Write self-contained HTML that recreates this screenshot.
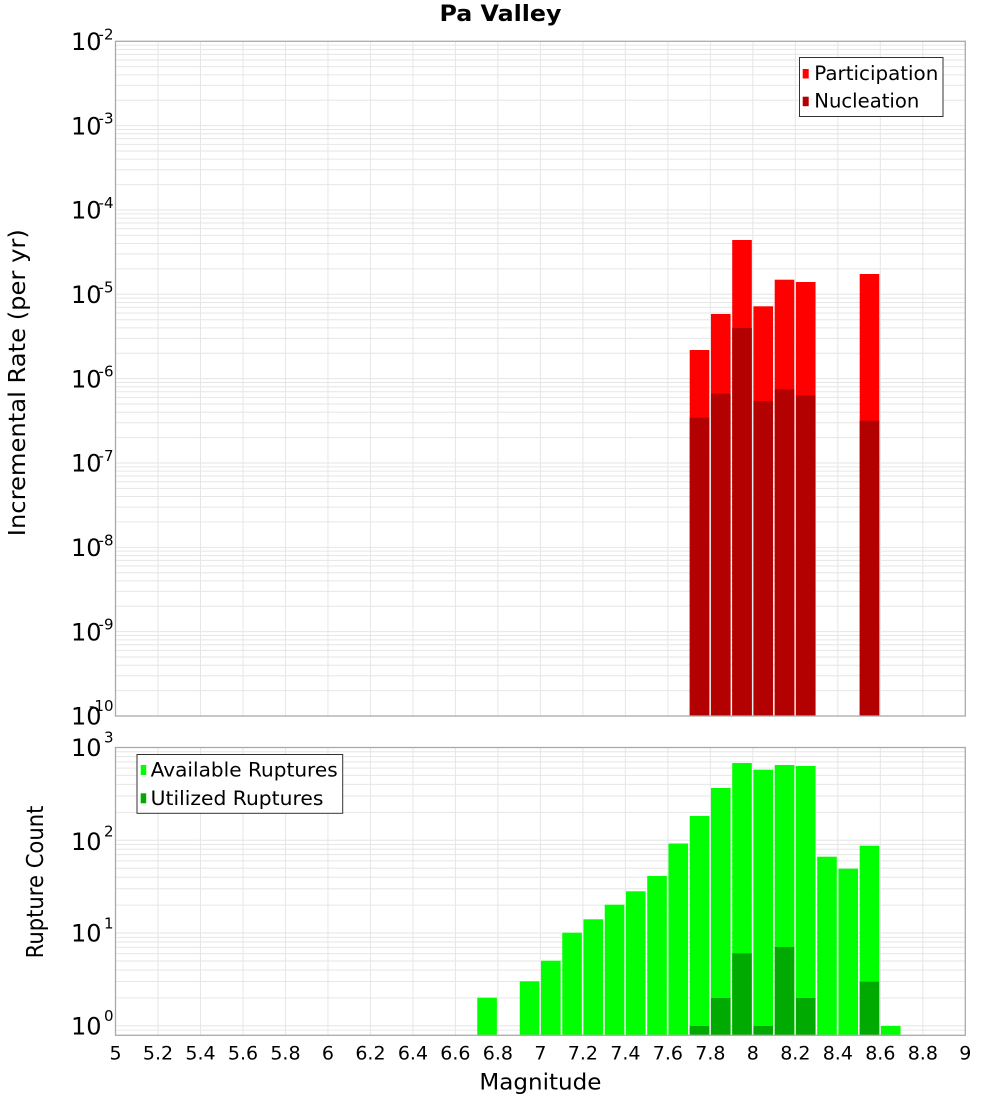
<!DOCTYPE html>
<html>
<head>
<meta charset="utf-8">
<style>
html,body{margin:0;padding:0;background:#fff;}
svg{display:block;}
text{font-family:"DejaVu Sans","Liberation Sans",sans-serif;fill:#000;}
</style>
</head>
<body>
<svg width="1000" height="1100" viewBox="0 0 1000 1100" xmlns="http://www.w3.org/2000/svg">
<rect x="0" y="0" width="1000" height="1100" fill="#fff"/>

<!-- Title -->
<text x="500.5" y="21" text-anchor="middle" font-size="22" font-weight="bold" textLength="122" lengthAdjust="spacingAndGlyphs">Pa Valley</text>

<!-- ===== TOP PANEL ===== -->
<g stroke="#e6e6e6" stroke-width="1" fill="none">
<path d="M115.5 45.14H965.3M115.5 49.45H965.3M115.5 54.34H965.3M115.5 59.99H965.3M115.5 66.67H965.3M115.5 74.84H965.3M115.5 85.38H965.3M115.5 100.23H965.3
M115.5 125.62H965.3M115.5 129.48H965.3M115.5 133.79H965.3M115.5 138.68H965.3M115.5 144.33H965.3M115.5 151.01H965.3M115.5 159.18H965.3M115.5 169.72H965.3M115.5 184.57H965.3
M115.5 209.96H965.3M115.5 213.82H965.3M115.5 218.13H965.3M115.5 223.02H965.3M115.5 228.67H965.3M115.5 235.35H965.3M115.5 243.52H965.3M115.5 254.06H965.3M115.5 268.91H965.3
M115.5 294.30H965.3M115.5 298.16H965.3M115.5 302.47H965.3M115.5 307.36H965.3M115.5 313.01H965.3M115.5 319.69H965.3M115.5 327.86H965.3M115.5 338.40H965.3M115.5 353.25H965.3
M115.5 378.64H965.3M115.5 382.50H965.3M115.5 386.81H965.3M115.5 391.70H965.3M115.5 397.35H965.3M115.5 404.03H965.3M115.5 412.20H965.3M115.5 422.74H965.3M115.5 437.59H965.3
M115.5 462.98H965.3M115.5 466.84H965.3M115.5 471.15H965.3M115.5 476.04H965.3M115.5 481.69H965.3M115.5 488.37H965.3M115.5 496.54H965.3M115.5 507.08H965.3M115.5 521.93H965.3
M115.5 547.32H965.3M115.5 551.18H965.3M115.5 555.49H965.3M115.5 560.38H965.3M115.5 566.03H965.3M115.5 572.71H965.3M115.5 580.88H965.3M115.5 591.42H965.3M115.5 606.27H965.3
M115.5 631.66H965.3M115.5 635.52H965.3M115.5 639.83H965.3M115.5 644.72H965.3M115.5 650.37H965.3M115.5 657.05H965.3M115.5 665.22H965.3M115.5 675.76H965.3M115.5 690.61H965.3"/>
<path d="M157.99 41.3V716M200.48 41.3V716M242.97 41.3V716M285.46 41.3V716M327.95 41.3V716M370.44 41.3V716M412.93 41.3V716M455.42 41.3V716M497.91 41.3V716M540.4 41.3V716M582.89 41.3V716M625.38 41.3V716M667.87 41.3V716M710.36 41.3V716M752.85 41.3V716M795.34 41.3V716M837.83 41.3V716M880.32 41.3V716M922.81 41.3V716"/>
</g>

<!-- Participation bars -->
<g fill="#ff0000">
<rect x="689.7" y="350" width="19.6" height="366"/>
<rect x="710.96" y="314" width="19.6" height="402"/>
<rect x="732.21" y="240" width="19.6" height="476"/>
<rect x="753.45" y="306.3" width="19.6" height="409.7"/>
<rect x="774.7" y="279.7" width="19.6" height="436.3"/>
<rect x="795.94" y="282" width="19.6" height="434"/>
<rect x="859.68" y="274" width="19.6" height="442"/>
</g>
<!-- Nucleation bars -->
<g fill="#b30000">
<rect x="689.7" y="417.7" width="19.6" height="298.3"/>
<rect x="710.96" y="393.7" width="19.6" height="322.3"/>
<rect x="732.21" y="328" width="19.6" height="388"/>
<rect x="753.45" y="401" width="19.6" height="315"/>
<rect x="774.7" y="389.3" width="19.6" height="326.7"/>
<rect x="795.94" y="395.3" width="19.6" height="320.7"/>
<rect x="859.68" y="420.7" width="19.6" height="295.3"/>
</g>

<rect x="115.5" y="41.3" width="849.8" height="674.7" fill="none" stroke="#aaaaaa" stroke-width="1.3"/>

<!-- top legend -->
<rect x="799.5" y="57.5" width="143.5" height="59" fill="#fff" stroke="#333" stroke-width="1"/>
<rect x="802.7" y="69" width="6" height="9.5" fill="#ff0000"/>
<rect x="802.7" y="96.7" width="6" height="9.5" fill="#b30000"/>
<text x="814.3" y="80" font-size="19.5" textLength="124" lengthAdjust="spacingAndGlyphs">Participation</text>
<text x="814.3" y="107.5" font-size="19.5" textLength="105" lengthAdjust="spacingAndGlyphs">Nucleation</text>

<!-- top y ticks -->
<g font-size="24" text-anchor="end">
<text x="101.5" y="50">10</text>
<text x="101.5" y="134.3">10</text>
<text x="101.5" y="218.7">10</text>
<text x="101.5" y="303">10</text>
<text x="101.5" y="387.3">10</text>
<text x="101.5" y="471.7">10</text>
<text x="101.5" y="556">10</text>
<text x="101.5" y="640.4">10</text>
<text x="101.5" y="724.5">10</text>
</g>
<g font-size="15" text-anchor="end">
<text x="113.5" y="39.3">-2</text>
<text x="113.5" y="123.6">-3</text>
<text x="113.5" y="208">-4</text>
<text x="113.5" y="292.3">-5</text>
<text x="113.5" y="376.6">-6</text>
<text x="113.5" y="461">-7</text>
<text x="113.5" y="545.3">-8</text>
<text x="113.5" y="629.7">-9</text>
<text x="113.5" y="711">-10</text>
</g>

<text transform="translate(25,382.7) rotate(-90)" text-anchor="middle" font-size="23" textLength="307" lengthAdjust="spacingAndGlyphs">Incremental Rate (per yr)</text>

<!-- ===== BOTTOM PANEL ===== -->
<g stroke="#e6e6e6" stroke-width="1" fill="none">
<path d="M115.5 751.78H965.3M115.5 756.49H965.3M115.5 761.87H965.3M115.5 768.08H965.3M115.5 775.43H965.3M115.5 784.42H965.3M115.5 796.01H965.3M115.5 812.34H965.3
M115.5 840.27H965.3M115.5 844.55H965.3M115.5 849.26H965.3M115.5 854.64H965.3M115.5 860.85H965.3M115.5 868.20H965.3M115.5 877.19H965.3M115.5 888.78H965.3M115.5 905.11H965.3
M115.5 933.04H965.3M115.5 937.32H965.3M115.5 942.03H965.3M115.5 947.41H965.3M115.5 953.62H965.3M115.5 960.97H965.3M115.5 969.96H965.3M115.5 981.55H965.3M115.5 997.88H965.3
M115.5 1025.81H965.3M115.5 1030.09H965.3"/>
<path d="M157.99 747.5V1035.3M200.48 747.5V1035.3M242.97 747.5V1035.3M285.46 747.5V1035.3M327.95 747.5V1035.3M370.44 747.5V1035.3M412.93 747.5V1035.3M455.42 747.5V1035.3M497.91 747.5V1035.3M540.4 747.5V1035.3M582.89 747.5V1035.3M625.38 747.5V1035.3M667.87 747.5V1035.3M710.36 747.5V1035.3M752.85 747.5V1035.3M795.34 747.5V1035.3M837.83 747.5V1035.3M880.32 747.5V1035.3M922.81 747.5V1035.3"/>
</g>

<!-- Available ruptures -->
<g fill="#00ff00">
<rect x="477.27" y="997.7" width="19.6" height="37.6"/>
<rect x="519.76" y="981.3" width="19.6" height="54"/>
<rect x="541" y="960.7" width="19.6" height="74.6"/>
<rect x="562.25" y="932.7" width="19.6" height="102.6"/>
<rect x="583.49" y="919.3" width="19.6" height="116"/>
<rect x="604.74" y="904.7" width="19.6" height="130.6"/>
<rect x="625.98" y="891.3" width="19.6" height="144"/>
<rect x="647.23" y="876" width="19.6" height="159.3"/>
<rect x="668.47" y="843.5" width="19.6" height="191.8"/>
<rect x="689.72" y="816" width="19.6" height="219.3"/>
<rect x="710.96" y="788" width="19.6" height="247.3"/>
<rect x="732.21" y="763" width="19.6" height="272.3"/>
<rect x="753.45" y="769.7" width="19.6" height="265.6"/>
<rect x="774.7" y="765" width="19.6" height="270.3"/>
<rect x="795.94" y="766" width="19.6" height="269.3"/>
<rect x="817.19" y="856.7" width="19.6" height="178.6"/>
<rect x="838.43" y="868.7" width="19.6" height="166.6"/>
<rect x="859.68" y="845.7" width="19.6" height="189.6"/>
<rect x="880.92" y="1026" width="19.6" height="9.3"/>
</g>
<!-- Utilized ruptures -->
<g fill="#00aa00">
<rect x="689.72" y="1026" width="19.6" height="9.3"/>
<rect x="710.96" y="998" width="19.6" height="37.3"/>
<rect x="732.21" y="953.3" width="19.6" height="82"/>
<rect x="753.45" y="1026" width="19.6" height="9.3"/>
<rect x="774.7" y="947" width="19.6" height="88.3"/>
<rect x="795.94" y="998" width="19.6" height="37.3"/>
<rect x="859.68" y="981.7" width="19.6" height="53.6"/>
</g>

<rect x="115.5" y="747.5" width="849.8" height="287.8" fill="none" stroke="#aaaaaa" stroke-width="1.3"/>

<!-- bottom legend -->
<rect x="137" y="754.5" width="205.7" height="58.8" fill="#fff" stroke="#333" stroke-width="1"/>
<rect x="140.7" y="765" width="5.5" height="10" fill="#00ff00"/>
<rect x="140.7" y="793.3" width="5.5" height="10" fill="#00aa00"/>
<text x="150.7" y="776.7" font-size="19.5" textLength="187" lengthAdjust="spacingAndGlyphs">Available Ruptures</text>
<text x="150.7" y="805" font-size="19.5" textLength="172.7" lengthAdjust="spacingAndGlyphs">Utilized Ruptures</text>

<!-- bottom y ticks -->
<g font-size="24" text-anchor="end">
<text x="101.5" y="756">10</text>
<text x="101.5" y="850">10</text>
<text x="101.5" y="941.7">10</text>
<text x="101.5" y="1034.5">10</text>
</g>
<g font-size="15" text-anchor="end">
<text x="113.5" y="742.7">3</text>
<text x="113.5" y="836.7">2</text>
<text x="113.5" y="928.5">1</text>
<text x="113.5" y="1021">0</text>
</g>

<text transform="translate(43,882) rotate(-90)" text-anchor="middle" font-size="23" textLength="152.7" lengthAdjust="spacingAndGlyphs">Rupture Count</text>

<!-- x ticks -->
<g font-size="19" text-anchor="middle">
<text x="115.5" y="1059.3">5</text>
<text x="157.99" y="1059.3">5.2</text>
<text x="200.48" y="1059.3">5.4</text>
<text x="242.97" y="1059.3">5.6</text>
<text x="285.46" y="1059.3">5.8</text>
<text x="327.95" y="1059.3">6</text>
<text x="370.44" y="1059.3">6.2</text>
<text x="412.93" y="1059.3">6.4</text>
<text x="455.42" y="1059.3">6.6</text>
<text x="497.91" y="1059.3">6.8</text>
<text x="540.4" y="1059.3">7</text>
<text x="582.89" y="1059.3">7.2</text>
<text x="625.38" y="1059.3">7.4</text>
<text x="667.87" y="1059.3">7.6</text>
<text x="710.36" y="1059.3">7.8</text>
<text x="752.85" y="1059.3">8</text>
<text x="795.34" y="1059.3">8.2</text>
<text x="837.83" y="1059.3">8.4</text>
<text x="880.32" y="1059.3">8.6</text>
<text x="922.81" y="1059.3">8.8</text>
<text x="965.3" y="1059.3">9</text>
</g>

<text x="540.4" y="1089.3" text-anchor="middle" font-size="22" textLength="122" lengthAdjust="spacingAndGlyphs">Magnitude</text>
</svg>
</body>
</html>
